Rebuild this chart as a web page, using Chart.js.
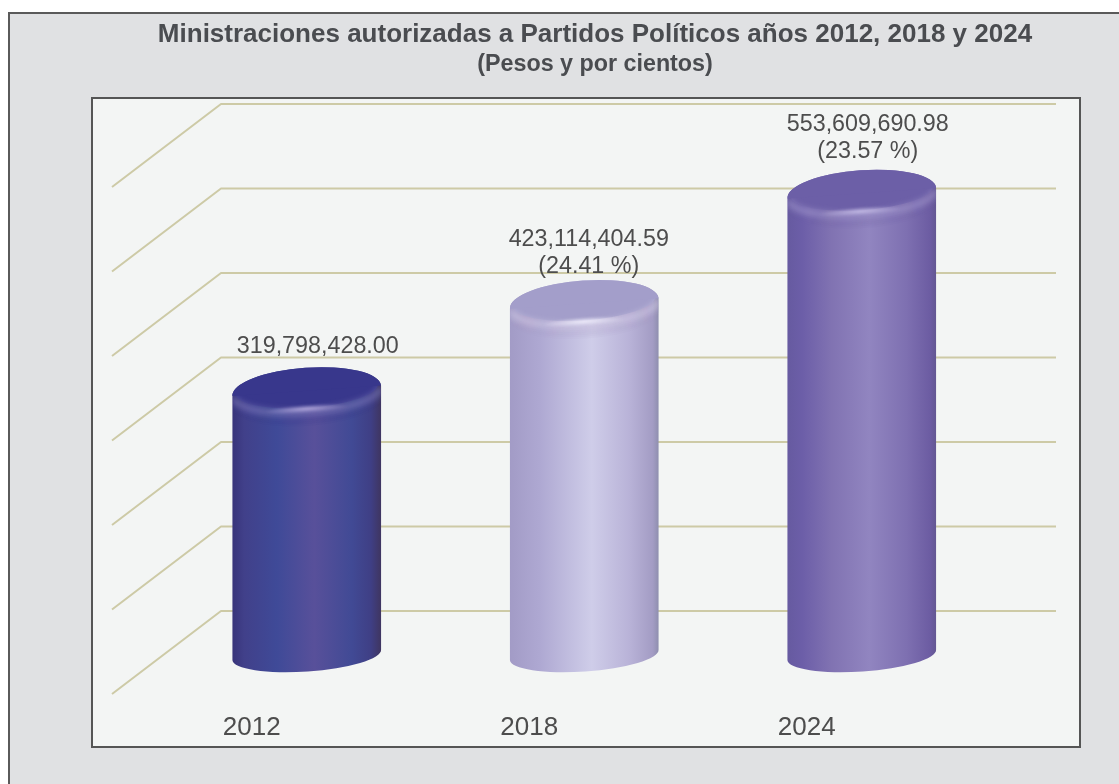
<!DOCTYPE html>
<html><head><meta charset="utf-8">
<style>html,body{margin:0;padding:0;background:#fff}canvas{display:block}</style>
<script src="https://cdn.jsdelivr.net/npm/chart.js@4"></script></head>
<body><div style="width:1119px;height:784px"><canvas id="c" width="1119" height="784"></canvas></div>
<script>
const categories = ['2012', '2018', '2024'];
const values = [319798428.00, 423114404.59, 553609690.98];
const labelLines = [['319,798,428.00'], ['423,114,404.59', '(24.41 %)'], ['553,609,690.98', '(23.57 %)']];
const yTicks = [0, 100, 200, 300, 400, 500, 600].map(v => v * 1000000);
const baseColors = ['#42488f', '#c5c2e2', '#8477b6'];

const styles = [
  {stops:[[0,'#38347a'],[.08,'#41408a'],[.3,'#3f4a98'],[.55,'#58509a'],[.8,'#414a95'],[.93,'#3f3f85'],[1,'#3f3560']],
   face:'rgb(56,55,140)', glow:'rgba(185,175,225,.9)', labelDx:11, labelDy:-44},
  {stops:[[0,'#a29bc6'],[.2,'#aea8d2'],[.55,'#cfcde9'],[.8,'#b9b3d8'],[.96,'#a39cc4'],[1,'#8e8eae']],
   face:'rgb(163,158,202)', glow:'rgba(240,238,252,.95)', labelDx:4.5, labelDy:-36.5},
  {stops:[[0,'#665aa0'],[.1,'#6c5ea8'],[.3,'#8173b2'],[.55,'#9185c0'],[.8,'#7e70b1'],[.96,'#6c5ca2'],[1,'#635792']],
   face:'rgb(108,95,167)', glow:'rgba(200,192,232,.9)', labelDx:6, labelDy:-41.5}
];

const scene = {
  id: 'scene',
  beforeDraw(chart) {
    const g = chart.ctx;
    g.save();
    g.fillStyle = '#e0e1e3'; g.fillRect(9, 13, 1110, 771);
    g.fillStyle = '#5a5a5a'; g.fillRect(9, 12, 1110, 2); g.fillRect(8, 12, 2, 772);
    g.fillStyle = '#f3f5f4'; g.fillRect(92, 98, 988, 649);
    g.strokeStyle = '#555'; g.lineWidth = 2; g.strokeRect(92, 98, 988, 649);
    g.restore();
  },
  beforeDatasetsDraw(chart) {
    const g = chart.ctx, y = chart.scales.y;
    g.save();
    g.strokeStyle = '#cdcaa6'; g.lineWidth = 2; g.lineJoin = 'round';
    y.ticks.forEach(t => {
      const py = y.getPixelForValue(t.value);
      g.beginPath();
      g.moveTo(112, py + 33); g.lineTo(221, py - 50); g.lineTo(1056, py - 50);
      g.stroke();
    });
    g.restore();
  },
  beforeDatasetDraw(chart, args) {
    const meta = args.meta, g = chart.ctx;
    const zero = chart.scales.y.getPixelForValue(0);
    meta.data.forEach((bar, i) => drawCylinder(g, bar, zero - 6, styles[i]));
    return false;
  },
  afterDatasetsDraw(chart) {
    const g = chart.ctx, meta = chart.getDatasetMeta(0);
    g.save();
    g.fillStyle = '#4d4d4d'; g.font = '23.3px "Liberation Sans"';
    g.textAlign = 'center'; g.textBaseline = 'middle';
    meta.data.forEach((bar, i) => {
      const lines = labelLines[i], s = styles[i];
      lines.forEach((txt, k) => {
        g.fillText(txt, bar.x + s.labelDx, bar.y + s.labelDy - (lines.length - 1 - k) * 27.5);
      });
    });
    g.restore();
  }
};

function drawCylinder(g, bar, baseY, s) {
  const cx = bar.x, rx = bar.width / 2, top = bar.y, rot = -4 * Math.PI / 180;
  const ryTop = 23, ryBot = 16.5;
  g.save();
  const lg = g.createLinearGradient(cx - rx, 0, cx + rx, 0);
  s.stops.forEach(st => lg.addColorStop(st[0], st[1]));
  const silhouette = new Path2D();
  silhouette.ellipse(cx, baseY, rx, ryBot, rot, Math.PI, 0, true);
  silhouette.ellipse(cx, top, rx, ryTop, rot, 0, Math.PI, true);
  silhouette.closePath();
  g.fillStyle = lg;
  g.fill(silhouette);

  g.save();
  g.clip(silhouette);
  g.translate(cx, top);
  g.rotate(rot);
  g.fillStyle = s.face.replace('rgb(', 'rgba(').replace(')', ',.07)');
  for (let t = 12; t >= 2; t -= 2) {
    g.beginPath(); g.ellipse(0, t, rx, ryTop, 0, 0, Math.PI * 2); g.fill();
  }
  g.fillStyle = s.face;
  g.beginPath(); g.ellipse(0, -2, rx - 3, ryTop - 4, 0, 0, Math.PI * 2); g.fill();
  g.filter = 'blur(3px)';
  g.strokeStyle = s.glow.replace(/[\d.]+\)$/, '.4)');
  g.lineWidth = 6;
  g.beginPath(); g.ellipse(0, 0, rx, ryTop - 1, 0, 0.1, Math.PI - 0.1); g.stroke();
  g.filter = 'blur(1px)';
  g.translate(-2, 18);
  g.scale(1, .1);
  const hg = g.createRadialGradient(0, 0, 0, 0, 0, 42);
  hg.addColorStop(0, s.glow);
  hg.addColorStop(1, s.glow.replace(/[\d.]+\)$/, '0)'));
  g.fillStyle = hg;
  g.beginPath(); g.arc(0, 0, 42, 0, Math.PI * 2); g.fill();
  g.restore();

  g.beginPath();
  g.ellipse(cx, top, rx, ryTop, rot, Math.PI, 0);
  g.fillStyle = s.face;
  g.fill();
  g.restore();
}

new Chart(document.getElementById('c'), {
  type: 'bar',
  data: { labels: categories, datasets: [{ data: values, backgroundColor: baseColors, barPercentage: 1, categoryPercentage: 149 / 277.5 }] },
  plugins: [scene],
  options: {
    responsive: false, animation: false, devicePixelRatio: 1,
    layout: { padding: { left: 71, right: 0, top: 0, bottom: 0 } },
    plugins: {
      legend: { display: false }, tooltip: { enabled: false },
      title: { display: true, text: 'Ministraciones autorizadas a Partidos Políticos años 2012, 2018 y 2024',
        color: '#4a4c50', font: { family: '"Liberation Sans"', size: 26, weight: 'bold', lineHeight: 1 }, padding: { top: 22, bottom: 0 } },
      subtitle: { display: true, text: '(Pesos y por cientos)',
        color: '#4a4c50', font: { family: '"Liberation Sans"', size: 23.3, weight: 'bold', lineHeight: 1 }, padding: { top: 4.85, bottom: 77.85 } }
    },
    scales: {
      x: { grid: { display: false }, border: { display: false }, afterFit(s) { s.height = 123; },
        ticks: { color: '#4d4d4d', font: { family: '"Liberation Sans"', size: 26 }, padding: 43, labelOffset: -55, maxRotation: 0 } },
      y: { min: 0, max: 600000000, position: 'left', grid: { display: false }, border: { display: false },
        afterBuildTicks(s) { s.ticks = yTicks.map(v => ({ value: v })); },
        afterFit(s) { s.width = 97; }, ticks: { display: false } },
      yRight: { display: true, min: 0, max: 600000000, position: 'right', grid: { display: false }, border: { display: false },
        afterFit(s) { s.width = 118.5; }, ticks: { display: false } }
    }
  }
});
</script></body></html>
